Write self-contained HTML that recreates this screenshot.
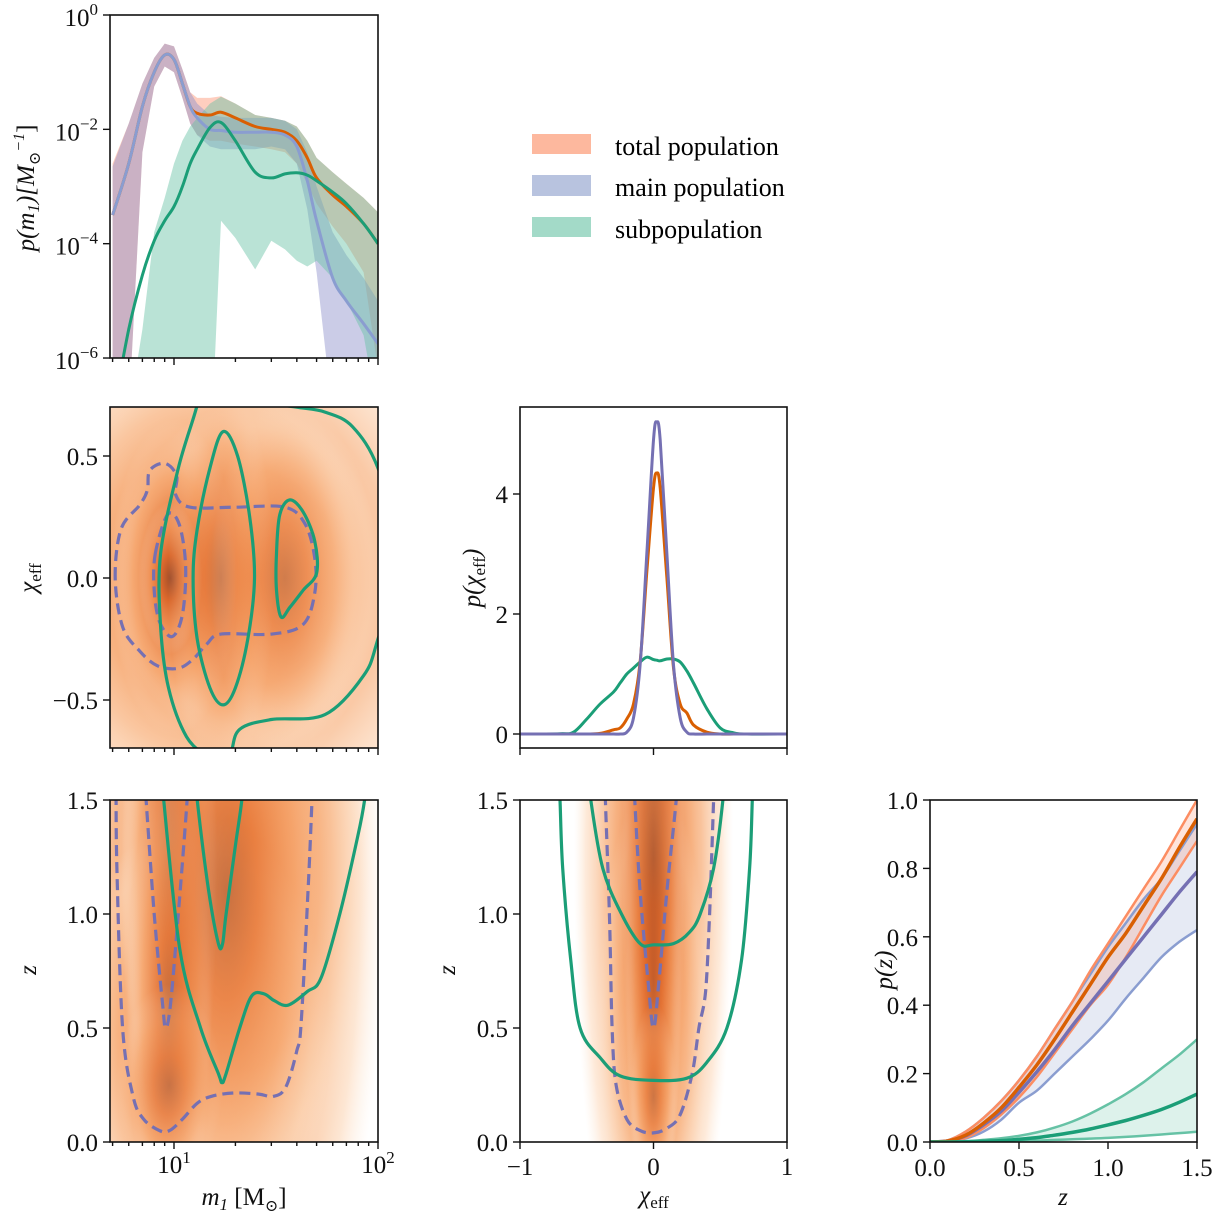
<!DOCTYPE html>
<html><head><meta charset="utf-8">
<style>
html,body{margin:0;padding:0;background:#fff;width:1215px;height:1220px;overflow:hidden;}
svg{display:block;font-family:"Liberation Serif","DejaVu Serif",serif;}
.tk{font-size:25px;fill:#111;}
.lab{font-size:25px;fill:#111;font-style:italic;}
</style></head>
<body>
<svg id="fig" width="1215" height="1220" viewBox="0 0 1215 1220" xmlns="http://www.w3.org/2000/svg">
<defs>
<radialGradient id="blob" cx="50%" cy="50%" r="50%">
<stop offset="0" stop-color="#9c4a28" stop-opacity="1"/>
<stop offset="0.3" stop-color="#e0692a" stop-opacity="0.95"/>
<stop offset="0.65" stop-color="#f5a166" stop-opacity="0.7"/>
<stop offset="1" stop-color="#fde4cf" stop-opacity="0"/>
</radialGradient>
<radialGradient id="wide" cx="50%" cy="50%" r="50%">
<stop offset="0" stop-color="#f08a48" stop-opacity="1"/>
<stop offset="0.6" stop-color="#f7ad78" stop-opacity="0.85"/>
<stop offset="0.85" stop-color="#fcd6b6" stop-opacity="0.6"/>
<stop offset="1" stop-color="#fde9d8" stop-opacity="0"/>
</radialGradient>
<clipPath id="c1"><rect x="110" y="15" width="268" height="343"/></clipPath>
<clipPath id="c2"><rect x="110" y="407" width="268" height="341"/></clipPath>
<clipPath id="c3"><rect x="520" y="407" width="267" height="341"/></clipPath>
<clipPath id="c4"><rect x="110" y="800" width="268" height="342"/></clipPath>
<clipPath id="c5"><rect x="520" y="800" width="267" height="342"/></clipPath>
<clipPath id="c6"><rect x="930" y="800" width="267" height="342"/></clipPath>
</defs>
<g>
<rect x="532" y="134" width="59" height="20" fill="#fdb89e"/>
<rect x="532" y="175" width="59" height="21" fill="#b8c3df"/>
<rect x="532" y="217" width="59" height="20" fill="#a3dac8"/>
<text x="615" y="155" style="font-size:26px">total population</text>
<text x="615" y="196" style="font-size:26px">main population</text>
<text x="615" y="238" style="font-size:26px">subpopulation</text>
</g>
</svg>
<script>
// ---------- data: m1 marginal (log10 p) ----------
const mGrid=[5,6,7,8,9,10,11,12,13,15,17,20,25,30,35,40,45,50,60,70,85,100];
const totMed=[-3.5,-2.6,-1.6,-1.0,-0.7,-0.78,-1.2,-1.6,-1.72,-1.75,-1.7,-1.8,-1.95,-2.0,-2.05,-2.2,-2.5,-2.85,-3.15,-3.35,-3.65,-4.0];
const totHi=[-2.6,-1.9,-1.2,-0.75,-0.5,-0.55,-0.95,-1.35,-1.45,-1.45,-1.42,-1.55,-1.75,-1.8,-1.85,-1.95,-2.2,-2.5,-2.75,-2.95,-3.2,-3.45];
const totLo=[-7,-7,-2.4,-1.25,-0.9,-1.0,-1.45,-1.9,-2.1,-2.2,-2.2,-2.25,-2.3,-2.35,-2.4,-2.6,-2.95,-3.3,-3.7,-4.0,-4.5,-6.2];
const mainMed=[-3.5,-2.6,-1.6,-1.0,-0.7,-0.78,-1.2,-1.6,-1.8,-2.0,-2.02,-2.05,-2.05,-2.05,-2.1,-2.3,-2.9,-3.6,-4.6,-5.0,-5.4,-5.75];
const mainHi=[-2.65,-1.9,-1.2,-0.75,-0.5,-0.55,-0.95,-1.35,-1.55,-1.75,-1.78,-1.8,-1.8,-1.8,-1.85,-2.0,-2.4,-3.0,-3.8,-4.2,-4.6,-5.0];
const mainLo=[-7,-7,-2.4,-1.25,-0.9,-1.0,-1.45,-1.9,-2.1,-2.3,-2.35,-2.35,-2.35,-2.3,-2.35,-2.6,-3.4,-4.5,-7,-7,-7,-7];
const subMed=[-7,-5.5,-4.55,-3.95,-3.6,-3.35,-3.0,-2.6,-2.35,-1.97,-1.88,-2.2,-2.75,-2.85,-2.78,-2.76,-2.8,-2.9,-3.1,-3.3,-3.65,-4.0];
const subHi=[-8,-7,-5.5,-3.8,-3.2,-2.6,-2.2,-1.95,-1.8,-1.55,-1.43,-1.55,-1.75,-1.8,-1.85,-1.95,-2.2,-2.5,-2.75,-2.95,-3.2,-3.45];
const subLo=[-8,-8,-8,-8,-8,-8,-8,-8,-8,-8,-3.6,-3.9,-4.45,-3.95,-4.1,-4.3,-4.4,-4.3,-4.6,-5.0,-5.6,-7];
// ---------- data: chi_eff marginal ----------
const chiGrid=[-1,-0.7,-0.6,-0.5,-0.4,-0.3,-0.25,-0.2,-0.15,-0.1,-0.05,0,0.025,0.05,0.1,0.15,0.2,0.25,0.3,0.4,0.5,0.6,0.7,1];
const chiTot=[0,0,0,0,0.01,0.07,0.1,0.25,0.5,1.2,2.7,4.1,4.35,4.1,2.6,1.1,0.5,0.35,0.15,0.03,0,0,0,0];
const chiMain=[0,0,0,0,0,0,0,0.03,0.27,1.15,3.0,4.9,5.2,4.9,3.0,1.15,0.27,0.03,0,0,0,0,0,0];
const chiSub=[0,0.005,0.03,0.25,0.5,0.7,0.85,1.0,1.1,1.2,1.28,1.24,1.23,1.22,1.25,1.25,1.2,1.05,0.85,0.42,0.1,0.02,0,0];
// ---------- data: redshift marginal ----------
const zGrid=[0,0.1,0.2,0.3,0.4,0.5,0.6,0.7,0.8,0.9,1.0,1.1,1.2,1.3,1.4,1.5];
const pzTotMed=[0,0.003,0.02,0.055,0.1,0.16,0.225,0.3,0.38,0.46,0.54,0.61,0.69,0.77,0.86,0.945];
const pzTotHi=[0,0.005,0.03,0.07,0.12,0.18,0.25,0.33,0.41,0.5,0.58,0.66,0.74,0.82,0.91,1.0];
const pzTotLo=[0,0.002,0.012,0.04,0.08,0.13,0.19,0.26,0.33,0.4,0.46,0.54,0.63,0.72,0.8,0.88];
const pzMainMed=[0,0.003,0.018,0.05,0.09,0.145,0.205,0.27,0.34,0.405,0.47,0.535,0.6,0.665,0.73,0.79];
const pzMainHi=[0,0.005,0.03,0.07,0.12,0.18,0.25,0.33,0.41,0.49,0.57,0.64,0.71,0.77,0.85,0.93];
const pzMainLo=[0,0.001,0.01,0.03,0.065,0.115,0.15,0.2,0.25,0.3,0.355,0.42,0.48,0.54,0.585,0.62];
const pzSubMed=[0,0,0.001,0.002,0.004,0.008,0.013,0.02,0.028,0.038,0.05,0.063,0.078,0.095,0.116,0.14];
const pzSubHi=[0,0,0.002,0.006,0.011,0.018,0.028,0.042,0.06,0.083,0.11,0.14,0.175,0.215,0.255,0.3];
const pzSubLo=[0,0,0,0.001,0.002,0.003,0.004,0.006,0.008,0.01,0.012,0.015,0.018,0.022,0.026,0.03];
// ---------- data: 2D contours ----------
const mcGreenOuter=[[14,0.85],[12.9,0.7],[10.5,0.45],[8.6,0.1],[8.6,-0.2],[9.4,-0.45],[11.5,-0.65],[15,-0.75],[17,-0.85],[19,-0.72],[21,-0.62],[30,-0.58],[55,-0.56],[85,-0.4],[100,-0.25],[130,0.1],[100,0.45],[75,0.62],[55,0.68],[40,0.7],[30,0.72],[24,0.78],[20,0.85]];
const mcGreenMid=[[17.4,0.6],[15,0.45],[13,0.2],[12.4,0],[13,-0.25],[15,-0.45],[17.4,-0.52],[20,-0.45],[23,-0.25],[24.8,0],[23.5,0.25],[20.5,0.5]];
const mcGreenSmall=[[37,0.32],[33,0.26],[31.8,0.1],[31.8,-0.05],[33.5,-0.16],[37,-0.12],[43,-0.05],[50,0.02],[49,0.15],[43,0.27]];
const mcPurpleOuter=[[5.15,0],[5.5,0.2],[6.8,0.3],[7.4,0.36],[7.6,0.44],[9,0.47],[10.3,0.42],[10.2,0.34],[12,0.29],[20,0.29],[35,0.29],[44,0.22],[49,0.08],[49,-0.06],[43,-0.19],[30,-0.23],[17,-0.23],[14.5,-0.27],[12.5,-0.33],[10.5,-0.37],[8.3,-0.36],[6.8,-0.3],[5.6,-0.2]];
const mcPurpleInner=[[8.1,0.1],[9.3,0.26],[10.6,0.22],[11.4,0.05],[11,-0.15],[9.8,-0.24],[8.5,-0.18],[8,-0.05]];
const mzGreenA=[[12.9,1.6],[13,1.5],[14.8,1.1],[16.5,0.87],[17.3,0.87],[18,1.0],[20,1.3],[21.5,1.5],[21.6,1.6]];
const mzGreenB=[[8.8,1.6],[8.9,1.5],[10.7,0.84],[13.5,0.5],[16.5,0.3],[17.2,0.26],[18,0.3],[21,0.5],[24,0.64],[27.6,0.65],[31,0.62],[36.2,0.6],[45,0.66],[52.6,0.72],[65,1.0],[80,1.35],[86,1.5],[88,1.6]];
const mzPurpleOuter=[[5.2,1.6],[5.25,1.2],[5.6,0.5],[6.3,0.2],[7.1,0.1],[8.5,0.05],[9.5,0.05],[11,0.1],[13,0.17],[15.2,0.2],[19.5,0.215],[26,0.21],[30.6,0.2],[35.3,0.24],[40,0.4],[42,0.52],[45.4,1.1],[47.5,1.5],[48,1.6]];
const mzPurpleInner=[[7.2,1.6],[7.3,1.5],[8,1.0],[8.8,0.6],[9.1,0.5],[9.6,0.6],[10.5,1.0],[11.6,1.5],[11.7,1.6]];
const czGreenOuter=[[-0.71,1.6],[-0.7,1.5],[-0.68,1.2],[-0.62,0.8],[-0.55,0.5],[-0.4,0.37],[-0.25,0.29],[0,0.27],[0.25,0.28],[0.4,0.35],[0.55,0.5],[0.66,0.8],[0.72,1.2],[0.74,1.5],[0.745,1.6]];
const czGreenInner=[[-0.48,1.6],[-0.47,1.5],[-0.38,1.2],[-0.24,1.0],[-0.1,0.87],[0,0.865],[0.15,0.87],[0.27,0.92],[0.35,1.0],[0.45,1.2],[0.52,1.5],[0.525,1.6]];
const czPurpleOuter=[[-0.36,1.6],[-0.36,1.5],[-0.33,1.0],[-0.31,0.5],[-0.28,0.25],[-0.2,0.1],[-0.1,0.05],[0,0.04],[0.1,0.06],[0.2,0.12],[0.29,0.3],[0.34,0.5],[0.39,0.66],[0.42,1.0],[0.45,1.5],[0.455,1.6]];
const czPurpleInner=[[-0.14,1.6],[-0.14,1.5],[-0.1,1.1],[-0.04,0.7],[0,0.5],[0.04,0.7],[0.1,1.1],[0.17,1.5],[0.17,1.6]];
// density: broad layers [x, y, sigmaX, sigmaY, weight] and peaked blobs
const mcWide=[[18,0,0.5,0.48,0.85],[14,0,0.33,0.36,0.8],[25,0,0.26,0.28,0.6]];
const mcBlobs=[[10,0,0.12,0.25,0.9],[9.6,0,0.06,0.12,0.8],[17,0,0.1,0.32,0.5],[35,0,0.14,0.28,0.4]];
const mzWide=[[16,1.1,0.32,0.95,1.0],[13,0.45,0.25,0.38,0.8],[22,1.25,0.24,0.6,0.8]];
const mzBlobs=[[9.5,1.2,0.09,0.6,0.95],[9.5,0.6,0.08,0.4,0.85],[9.5,0.25,0.1,0.17,0.6],[18,1.1,0.2,0.6,0.5]];
const czWide=[[0,1.25,0.23,0.85,0.85],[0,0.5,0.16,0.42,0.7]];
const czBlobs=[[0,1.3,0.09,0.7,1.0],[0,0.7,0.08,0.45,0.9],[0,0.2,0.065,0.16,0.7],[0,1.25,0.17,0.65,0.55]];

// ---------- helpers ----------
const NS='http://www.w3.org/2000/svg';
const svg=document.getElementById('fig');
function el(tag,attrs,parent){const e=document.createElementNS(NS,tag);for(const k in attrs)e.setAttribute(k,attrs[k]);(parent||svg).appendChild(e);return e;}
function smooth(pts,closed){
  if(pts.length<2)return '';
  let d='M'+pts[0][0].toFixed(1)+','+pts[0][1].toFixed(1);
  const n=pts.length;
  const get=i=>closed?pts[(i+n)%n]:pts[Math.max(0,Math.min(n-1,i))];
  const last=closed?n:n-1;
  for(let i=0;i<last;i++){
    const p0=get(i-1),p1=get(i),p2=get(i+1),p3=get(i+2);
    const t=1/6;
    const c1=[p1[0]+(p2[0]-p0[0])*t,p1[1]+(p2[1]-p0[1])*t];
    const c2=[p2[0]-(p3[0]-p1[0])*t,p2[1]-(p3[1]-p1[1])*t];
    d+='C'+c1[0].toFixed(1)+','+c1[1].toFixed(1)+' '+c2[0].toFixed(1)+','+c2[1].toFixed(1)+' '+p2[0].toFixed(1)+','+p2[1].toFixed(1);
  }
  return d+(closed?'Z':'');
}
function poly(pts){return pts.map((p,i)=>(i?'L':'M')+p[0].toFixed(1)+','+p[1].toFixed(1)).join('');}
const L10=Math.log10;
const sxM=m=>174+(L10(m)-1)*204;
const syP=lp=>15-lp*57.17;
const syC=c=>578-c*244;
const sxC=c=>653.5+c*133.5;
const syPC=p=>734-p*60;
const syZ=z=>1142-z*228;
const sxZ=z=>930+z*178;
const syPZ=p=>1142-p*342;

function band(g,xs,lo,hi,fx,fy,fill,op,name,lin){
  const up=xs.map((x,i)=>[fx(x),fy(hi[i])]);
  const dn=xs.map((x,i)=>[fx(x),fy(lo[i])]).reverse();
  const f=lin?poly:(p=>smooth(p,false));
  const p=el('path',{d:f(up)+f(dn).replace('M','L')+'Z',fill:fill,'fill-opacity':op},g);
  
  
  return p;
}
function line(g,xs,ys,fx,fy,stroke,w,name,op){
  const pts=xs.map((x,i)=>[fx(x),fy(ys[i])]);
  const p=el('path',{d:smooth(pts,false),fill:'none',stroke:stroke,'stroke-width':w,'stroke-linejoin':'round','stroke-opacity':op||1},g);
  
  
  return p;
}
function contour(g,pts,fx,fy,stroke,dash,closed,name){
  const pp=pts.map(p=>[fx(p[0]),fy(p[1])]);
  const a={d:smooth(pp,closed),fill:'none',stroke:stroke,'stroke-width':3.2,'stroke-linejoin':'round'};
  if(dash)a['stroke-dasharray']='11,6';
  const p=el('path',a,g);
  
  
}
function blobs(g,list,fx,fy,sxu,syu,name,grad){
  list.forEach((b,i)=>{
    const cx=fx(b[0]),cy=fy(b[1]);
    const rx=b[2]*sxu*2.6,ry=b[3]*syu*2.6;
    const e=el('ellipse',{cx:cx,cy:cy,rx:rx,ry:ry,fill:'url(#'+grad+')','fill-opacity':b[4]},g);
    
    
  });
}
function frame(x,y,w,h,name){
  const r=el('rect',{x:x,y:y,width:w,height:h,fill:'none',stroke:'#111','stroke-width':1.6});
  
  
}
function tickX(px,y0,len){el('line',{x1:px,x2:px,y1:y0,y2:y0+len,stroke:'#111','stroke-width':1.4});}
function tickY(py,x0,len){el('line',{x1:x0,x2:x0-len,y1:py,y2:py,stroke:'#111','stroke-width':1.4});}
function txt(x,y,s,anchor,cls,name){const t=el('text',{x:x,y:y,'text-anchor':anchor,class:cls||'tk'});t.textContent=s;return t;}
function logTicksX(y0,labels){
  const ms=[5,6,7,8,9,10,20,30,40,50,60,70,80,90,100];
  ms.forEach(m=>{const maj=(m===10||m===100);tickX(sxM(m),y0,maj?7:4);});
  if(labels){
    [[10,'1'],[100,'2']].forEach(a=>{const t=txt(sxM(a[0]),y0+31,'10','middle','tk','x-tick-label');const s=el('tspan',{dy:-10,'font-size':17},t);s.textContent=a[1];});
  }
}
// ---------- panel 1 ----------
const g1=el('g',{'clip-path':'url(#c1)'});

band(g1,mGrid,totLo,totHi,sxM,syP,'#fc9272',0.45,'total-band',true);
band(g1,mGrid,mainLo,mainHi,sxM,syP,'#8c8fc9',0.45,'main-band',true);
band(g1,mGrid,subLo,subHi,sxM,syP,'#66c2a5',0.45,'sub-band',true);
line(g1,mGrid,totMed,sxM,syP,'#d95f02',3,'total-median-line');
line(g1,mGrid,mainMed,sxM,syP,'#8a9dd0',3,'main-median-line');
line(g1,mGrid,subMed,sxM,syP,'#1b9e77',3,'sub-median-line');
frame(110,15,268,343,'m1-marginal-frame');
logTicksX(358,false);
[[0,'0'],[-2,'−2'],[-4,'−4'],[-6,'−6']].forEach(a=>{const y=syP(a[0]);tickY(y,110,7);const t=txt(98,y+11,'10','end','tk','y-tick-label');const s=el('tspan',{dy:-11,'font-size':17},t);s.textContent=a[1];});
{const t=el('text',{transform:'translate(34,188) rotate(-90)','text-anchor':'middle',class:'lab'});t.innerHTML='p(m<tspan font-size="17" dy="5">1</tspan><tspan dy="-5">)[M</tspan><tspan font-size="16" dy="6">⊙</tspan><tspan font-size="16" dy="-16">−1</tspan><tspan dy="10" font-style="normal">]</tspan>';}
// ---------- panel 2 ----------
const g2=el('g',{'clip-path':'url(#c2)'});

blobs(g2,mcWide,sxM,syC,204,244,'m1-chi-density-wide','wide');
blobs(g2,mcBlobs,sxM,syC,204,244,'m1-chi-density','blob');
contour(g2,mcPurpleOuter,sxM,syC,'#7570b3',true,true,'main-contour-outer');
contour(g2,mcPurpleInner,sxM,syC,'#7570b3',true,true,'main-contour-inner');
contour(g2,mcGreenOuter,sxM,syC,'#1b9e77',false,true,'sub-contour-outer');
contour(g2,mcGreenMid,sxM,syC,'#1b9e77',false,true,'sub-contour-mid');
contour(g2,mcGreenSmall,sxM,syC,'#1b9e77',false,true,'sub-contour-small');
frame(110,407,268,341,'m1-chi-frame');
logTicksX(748,false);
[[0.5,'0.5'],[0,'0.0'],[-0.5,'−0.5']].forEach(a=>{const y=syC(a[0]);tickY(y,110,7);txt(98,y+9,a[1],'end','tk','y-tick-label');});
{const t=el('text',{transform:'translate(36,578) rotate(-90)','text-anchor':'middle',class:'lab'});t.innerHTML='χ<tspan font-size="17" dy="5" font-style="normal">eff</tspan>';}
// ---------- panel 3 ----------
const g3=el('g',{'clip-path':'url(#c3)'});

line(g3,chiGrid,chiSub,sxC,syPC,'#1b9e77',3,'sub-chi-line');
line(g3,chiGrid,chiTot,sxC,syPC,'#d95f02',3,'total-chi-line');
line(g3,chiGrid,chiMain,sxC,syPC,'#7570b3',3,'main-chi-line');
frame(520,407,267,341,'chi-marginal-frame');
[-1,0,1].forEach(c=>tickX(sxC(c),748,7));
[[0,'0'],[2,'2'],[4,'4']].forEach(a=>{const y=syPC(a[0]);tickY(y,520,7);txt(508,y+9,a[1],'end','tk','y-tick-label');});
{const t=el('text',{transform:'translate(480,578) rotate(-90)','text-anchor':'middle',class:'lab'});t.innerHTML='p(χ<tspan font-size="17" dy="5" font-style="normal">eff</tspan><tspan dy="-5">)</tspan>';}
// ---------- panel 4 ----------
const g4=el('g',{'clip-path':'url(#c4)'});

blobs(g4,mzWide,sxM,syZ,204,228,'m1-z-density-wide','wide');
blobs(g4,mzBlobs,sxM,syZ,204,228,'m1-z-density','blob');
contour(g4,mzPurpleOuter,sxM,syZ,'#7570b3',true,false,'main-mz-contour-outer');
contour(g4,mzPurpleInner,sxM,syZ,'#7570b3',true,false,'main-mz-contour-inner');
contour(g4,mzGreenA,sxM,syZ,'#1b9e77',false,false,'sub-mz-contour-inner');
contour(g4,mzGreenB,sxM,syZ,'#1b9e77',false,false,'sub-mz-contour-outer');
frame(110,800,268,342,'m1-z-frame');
logTicksX(1142,true);
[0,0.5,1,1.5].forEach(z=>{const y=syZ(z);tickY(y,110,7);txt(98,y+9,z.toFixed(1),'end','tk','y-tick-label');});
{const t=txt(36,970,'z','middle','lab','z-ylabel');t.setAttribute('transform','rotate(-90 36 970)');}
{const t=el('text',{x:244,y:1205,'text-anchor':'middle',class:'lab'});t.innerHTML='m<tspan font-size="17" dy="5">1</tspan><tspan dy="-5" font-style="normal"> [M</tspan><tspan font-size="16" dy="6" font-style="normal">⊙</tspan><tspan dy="-6" font-style="normal">]</tspan>';}
// ---------- panel 5 ----------
const g5=el('g',{'clip-path':'url(#c5)'});

blobs(g5,czWide,sxC,syZ,133.5,228,'chi-z-density-wide','wide');
blobs(g5,czBlobs,sxC,syZ,133.5,228,'chi-z-density','blob');
contour(g5,czPurpleOuter,sxC,syZ,'#7570b3',true,false,'main-cz-contour-outer');
contour(g5,czPurpleInner,sxC,syZ,'#7570b3',true,false,'main-cz-contour-inner');
contour(g5,czGreenOuter,sxC,syZ,'#1b9e77',false,false,'sub-cz-contour-outer');
contour(g5,czGreenInner,sxC,syZ,'#1b9e77',false,false,'sub-cz-contour-inner');
frame(520,800,267,342,'chi-z-frame');
[[-1,'−1'],[0,'0'],[1,'1']].forEach(a=>{tickX(sxC(a[0]),1142,7);txt(sxC(a[0]),1175,a[1],'middle','tk','x-tick-label');});
[0,0.5,1,1.5].forEach(z=>{const y=syZ(z);tickY(y,520,7);txt(508,y+9,z.toFixed(1),'end','tk','y-tick-label');});
{const t=txt(455,970,'z','middle','lab','z-ylabel-2');t.setAttribute('transform','rotate(-90 455 970)');}
{const t=el('text',{x:654,y:1203,'text-anchor':'middle',class:'lab'});t.innerHTML='χ<tspan font-size="17" dy="5" font-style="normal">eff</tspan>';}
// ---------- panel 6 ----------
const g6=el('g',{'clip-path':'url(#c6)'});

band(g6,zGrid,pzMainLo,pzMainHi,sxZ,syPZ,'#b8c3df',0.35,'main-z-band');
band(g6,zGrid,pzTotLo,pzTotHi,sxZ,syPZ,'#fc9272',0.25,'total-z-band');
band(g6,zGrid,pzSubLo,pzSubHi,sxZ,syPZ,'#66c2a5',0.22,'sub-z-band');
line(g6,zGrid,pzMainHi,sxZ,syPZ,'#8a9dd0',2.5,'main-z-hi');
line(g6,zGrid,pzMainLo,sxZ,syPZ,'#8a9dd0',2.5,'main-z-lo');
line(g6,zGrid,pzTotHi,sxZ,syPZ,'#fc8d62',2.5,'total-z-hi');
line(g6,zGrid,pzTotLo,sxZ,syPZ,'#fc8d62',2.5,'total-z-lo');
line(g6,zGrid,pzSubHi,sxZ,syPZ,'#66c2a5',2.5,'sub-z-hi');
line(g6,zGrid,pzSubLo,sxZ,syPZ,'#66c2a5',2.5,'sub-z-lo');
line(g6,zGrid,pzMainMed,sxZ,syPZ,'#7570b3',3.5,'main-z-median');
line(g6,zGrid,pzTotMed,sxZ,syPZ,'#d95f02',3.5,'total-z-median');
line(g6,zGrid,pzSubMed,sxZ,syPZ,'#1b9e77',3.5,'sub-z-median');
frame(930,800,267,342,'z-marginal-frame');
[0,0.5,1,1.5].forEach(z=>{tickX(sxZ(z),1142,7);txt(sxZ(z),1176,z.toFixed(1),'middle','tk','x-tick-label');});
[0,0.2,0.4,0.6,0.8,1.0].forEach(p=>{const y=syPZ(p);tickY(y,930,7);txt(918,y+9,p.toFixed(1),'end','tk','y-tick-label');});
{const t=el('text',{transform:'translate(892,970) rotate(-90)','text-anchor':'middle',class:'lab'});t.textContent='p(z)';}
txt(1063,1205,'z','middle','lab','z-xlabel');
</script>
</body></html>
